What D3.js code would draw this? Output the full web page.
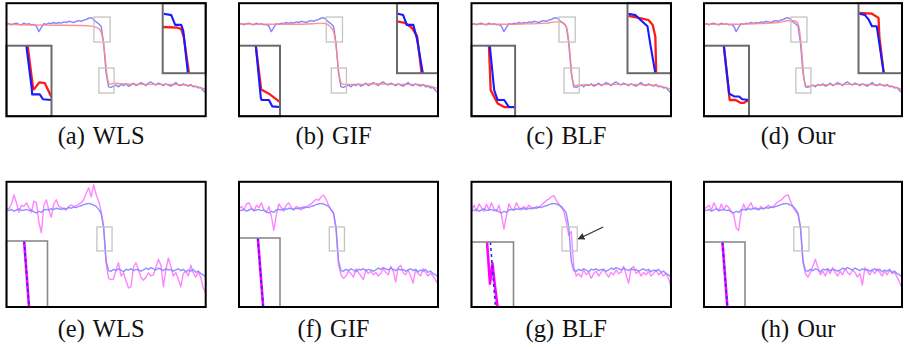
<!DOCTYPE html>
<html>
<head>
<meta charset="utf-8">
<script src="https://cdn.jsdelivr.net/npm/d3@7"></script>
<style>
  html, body { margin: 0; padding: 0; background: #fff; }
  svg { display: block; }
  .caption { font-family: "Liberation Serif", "DejaVu Serif", serif; font-size: 24.5px; fill: #111; }
</style>
</head>
<body>
<svg id="chart" width="910" height="347"></svg>
<script>
const methods = ['WLS', 'GIF', 'BLF', 'Our'];
const topLabels = ['(a)', '(b)', '(c)', '(d)'];
const bottomLabels = ['(e)', '(f)', '(g)', '(h)'];

// row 1: noisy step (input, blue) and smoothed outputs (red), intensity 100 = high, 0 = low
const stepInput = [
  100, 101, 99, 101, 102, 100, 99, 102, 100, 101,
  99, 100, 97, 88, 95, 101, 100, 102, 101, 103,
  101, 103, 102, 104, 103, 105, 104, 103, 105, 106,
  105, 107, 108, 110, 111, 108, 104, 101, 97, 69,
  20, -3, -4, -2, 0, -3, 1, -1, 2, -2,
  0, 3, -1, 1, 4, 2, -1, 3, 5, 2,
  0, 3, 1, -1, 2, 0, -2, 1, 4, 0,
  -1, 2, 0, -2, 1, -3, -2, -5, -4, -9,
  -13
];
const stepWLS = [[0, 100], [10, 99], [20, 98.5], [30, 98], [34, 97], [36, 95], [37.5, 91], [38.5, 80], [39.5, 50], [40.5, 12], [41.5, 1], [43, 3], [46, 2], [55, 1], [65, 1], [72, 0], [77, -3], [80, -7]];
const stepGIF = [[0, 101], [10, 100], [20, 100], [30, 101], [33, 102], [35, 101], [36.5, 97], [38, 88], [39, 65], [40, 25], [41, 4], [42, 1], [46, 1], [55, 2], [65, 1], [72, 1], [77, -2], [80, -6]];
const stepBLF = [[0, 100], [10, 100], [20, 100.5], [30, 102], [34, 104], [36, 104], [37.5, 100], [38.5, 88], [39.5, 52], [40.5, 8], [41.5, -1], [44, 0], [55, 1], [65, 1], [72, 0], [77, -3], [80, -7]];
const stepOur = [[0, 100], [10, 100], [20, 101], [30, 103], [34, 106], [36, 106], [37.5, 104], [38.5, 92], [39.5, 55], [40.5, 8], [41.5, -2], [44, -1], [55, 1], [65, 1], [72, 0], [77, -3], [80, -7]];
const stepOutputs = [stepWLS, stepGIF, stepBLF, stepOur];

// row 2: input (blue) and detail-enhanced outputs (magenta)
const detailInput = [
  100, 99, 101, 98, 100, 102, 99, 100, 101, 99,
  100, 97, 95, 98, 96, 100, 101, 100, 102, 101,
  103, 102, 101, 103, 102, 104, 103, 105, 104, 106,
  107, 109, 110, 111, 110, 108, 106, 101, 95, 72,
  15, -1, -2, 1, -1, 2, 0, -3, 1, 0,
  2, -1, 1, 0, -2, 0, 3, 1, 4, 2,
  0, 3, 1, -1, 2, 0, 1, -2, 0, 2,
  -1, 1, -3, 0, -2, 1, -4, -2, -6, -8,
  -12
];
const detailWLS = [
  103, 102, 110, 125, 112, 96, 108, 106, 112, 104,
  96, 115, 112, 80, 62, 108, 117, 100, 88, 110,
  117, 106, 104, 102, 100, 106, 108, 106, 107, 110,
  112, 117, 128, 137, 122, 142, 126, 115, 98, 72,
  12, -14, -16, -15, 0, 12, -10, -5, -18, -30,
  -28, 5, 12, 0, -12, -17, -12, -5, -10, -8,
  4, 18, 8, -28, 0, 20, 6, -10, -4, -15,
  -28, -6, -2, -10, 8, -5, -12, -4, -12, -30,
  -38
];
const detailGIF = [
  102, 106, 100, 110, 112, 104, 98, 108, 104, 112,
  100, 96, 106, 90, 66, 92, 110, 104, 98, 108,
  112, 104, 100, 106, 104, 100, 106, 104, 108, 110,
  114, 118, 116, 122, 125, 118, 108, 100, 94, 68,
  10, -8, -14, -10, -2, -6, -12, 2, -4, -10,
  -16, 0, -6, -2, -8, -4, -10, -6, 2, -4,
  -8, 6, -2, -20, 4, 8, -4, -8, 0, -10,
  -22, 0, -6, -10, 2, -4, -10, -6, -10, -16,
  -25
];
const detailBLF = [
  100, 108, 98, 110, 104, 98, 110, 100, 112, 102,
  98, 108, 92, 68, 90, 110, 102, 100, 112, 104,
  100, 106, 102, 108, 104, 102, 106, 104, 108, 112,
  116, 118, 122, 124, 116, 110, 104, 98, 80, 58,
  64, 6, -10, -6, -12, 0, -8, -4, -14, -6,
  -2, -10, -4, 2, -6, -12, -4, -8, 0, -6,
  -4, 6, -8, -22, 2, 6, -6, -2, -10, -4,
  -8, -2, -10, -6, 0, -8, -4, -10, -6, -14,
  -28
];
const detailOur = [
  102, 104, 108, 100, 112, 104, 98, 110, 100, 108,
  104, 98, 92, 70, 66, 96, 110, 100, 106, 112,
  102, 104, 100, 106, 102, 104, 108, 104, 106, 110,
  114, 116, 120, 124, 125, 114, 104, 98, 92, 68,
  12, -6, -12, -4, 6, 18, 4, -8, -2, -10,
  0, -6, 4, -4, -10, -2, -8, 2, -4, -8,
  0, -4, -12, -6, -25, 4, -2, -8, 0, -6,
  2, -4, -10, -2, -8, 0, -6, -4, -12, -20,
  -30
];
const detailOutputs = [detailWLS, detailGIF, detailBLF, detailOur];

// zoom windows (sample index, intensity) shown by the grey boxes
const stepZoomUpperX = [35.1, 41.6];
const stepZoomUpperV = [70.8, 112];
const stepZoomLowerX = [37.1, 43.2];
const stepZoomLowerV = [-13.2, 28];
const detailZoomX = [36.3, 42.4];
const detailZoomV = [31.7, 71.7];

// inset traces, in percent of the zoom window (x left->right, y bottom->top)
const upperInsetIn = [
  [[2, 85], [20, 83], [29, 69], [43, 69], [48, 60], [58.5, 0]],
  [[2, 85], [15, 83], [24, 69], [40, 69], [49, 48], [63, 0]],
  [[2, 85], [18, 83], [30, 76], [46, 67], [52, 43], [64, 0]],
  [[2, 85], [15, 83], [23, 77], [31, 67], [42, 67], [58, 0]]
];
const upperInsetOut = [
  [[0, 66], [35, 65], [43, 63], [49, 52], [61, 0]],
  [[0, 74], [19, 72], [36, 65], [49, 53], [60, 0]],
  [[2, 82], [26, 79], [48, 76], [58, 69], [64, 52], [66, 0]],
  [[2, 86], [31, 85], [46, 79], [48, 52], [58, 0]]
];
const lowerInsetIn = [
  [[44, 100], [56, 40], [57, 31], [74, 31], [81, 24], [100, 23]],
  [[41, 100], [53, 27], [55, 23], [73, 23], [81, 14], [100, 13]],
  [[42, 100], [52, 37], [60, 23], [75, 23], [86, 13], [100, 13]],
  [[44, 100], [56, 32], [67, 28], [78, 28], [85, 24], [100, 23]]
];
const lowerInsetOut = [
  [[47, 100], [59, 40], [61, 38], [73, 48], [85, 47], [100, 27]],
  [[41, 100], [54, 38], [73, 32], [100, 20]],
  [[40, 100], [44, 37], [60, 18], [75, 13], [100, 13]],
  [[44, 100], [57, 23], [70, 23], [81, 19], [89, 19], [100, 23]]
];
const detailInsetIn = [
  [[43, 100], [55, 0]],
  [[46, 100], [59, 0]],
  [[45, 100], [57, 0]],
  [[45, 100], [57, 0]]
];
const detailInsetOut = [
  [[43, 100], [55, 0]],
  [[46, 100], [59, 0]],
  [[37, 100], [44, 36], [50, 67], [54, 42], [62, 0]],
  [[45, 100], [57, 0]]
];

// layout
const COLS = [[6.5, 205.7], [239, 438], [471.5, 671], [704, 902]];
const ROW1 = { top: 3.2, bottom: 116.2, domain: [-51.4, 134.8], captionY: 144 };
const ROW2 = { top: 181.8, bottom: 307, domain: [-61.7, 147], captionY: 336.5 };
const UPPER_INSET_W = [43, 41, 43.5, 43.5];
const UPPER_INSET_H = 70;
const LOWER_INSET_W = [45, 41, 43.6, 45];
const LOWER_INSET_H = 70.5;
const DETAIL_INSET_W = [41, 41, 42, 41];
const DETAIL_INSET_H = [66, 69, 65, 65];

const svg = d3.select('#chart');
const defs = svg.append('defs');
defs.append('marker')
  .attr('id', 'arrowhead')
  .attr('viewBox', '0 0 10 10')
  .attr('refX', 9).attr('refY', 5)
  .attr('markerWidth', 7).attr('markerHeight', 7)
  .attr('markerUnits', 'userSpaceOnUse')
  .attr('orient', 'auto')
  .append('path')
  .attr('d', 'M0,0 L10,5 L0,10 z')
  .attr('fill', '#333');

let clipId = 0;
function clipRect(x, y, w, h) {
  const id = `clip${clipId++}`;
  defs.append('clipPath').attr('id', id)
    .append('rect').attr('x', x).attr('y', y).attr('width', w).attr('height', h);
  return `url(#${id})`;
}

function seriesLine(x, y) {
  return d3.line().x((d, i) => x(i)).y((d) => y(d));
}

function pairLine(x, y, curve) {
  return d3.line().x((d) => x(d[0])).y((d) => y(d[1])).curve(curve || d3.curveLinear);
}

function zoomBox(g, x, y, xr, vr) {
  g.append('rect')
    .attr('x', x(xr[0])).attr('y', y(vr[1]))
    .attr('width', x(xr[1]) - x(xr[0])).attr('height', y(vr[0]) - y(vr[1]))
    .attr('fill', 'none').attr('stroke', '#c4c4c4').attr('stroke-width', 1.3);
}

function inset(g, x0, y0, w, h, traces, border) {
  const ig = g.append('g');
  ig.append('rect').attr('x', x0).attr('y', y0).attr('width', w).attr('height', h).attr('fill', '#fff');
  const ix = d3.scaleLinear().domain([0, 100]).range([x0, x0 + w]);
  const iy = d3.scaleLinear().domain([0, 100]).range([y0 + h, y0]);
  const lines = ig.append('g').attr('clip-path', clipRect(x0, y0, w, h));
  traces.forEach((t) => {
    lines.append('path')
      .attr('d', pairLine(ix, iy)(t.data))
      .attr('fill', 'none')
      .attr('stroke', t.color)
      .attr('stroke-width', t.width)
      .attr('stroke-dasharray', t.dash || null)
      .attr('stroke-linejoin', 'round');
  });
  ig.append('rect').attr('x', x0).attr('y', y0).attr('width', w).attr('height', h)
    .attr('fill', 'none').attr('stroke', border.color).attr('stroke-width', border.width);
}

function caption(cx, cy, label, method) {
  const t = svg.append('text').attr('class', 'caption').attr('x', cx).attr('y', cy).attr('text-anchor', 'middle');
  t.append('tspan').text(label);
  t.append('tspan').attr('dx', 8).text(method);
}

function frame(L, R, T, B) {
  svg.append('rect').attr('x', L).attr('y', T).attr('width', R - L).attr('height', B - T)
    .attr('fill', 'none').attr('stroke', '#000').attr('stroke-width', 2);
}

// row 1: step edge
methods.forEach((method, c) => {
  const [L, R] = COLS[c];
  const { top: T, bottom: B } = ROW1;
  const x = d3.scaleLinear().domain([0, stepInput.length - 1]).range([L, R]);
  const y = d3.scaleLinear().domain(ROW1.domain).range([B, T]);
  const g = svg.append('g');
  const main = g.append('g').attr('clip-path', clipRect(L, T, R - L, B - T));

  main.append('path').attr('d', seriesLine(x, y)(stepInput))
    .attr('fill', 'none').attr('stroke', '#8585ff').attr('stroke-width', 1.4).attr('stroke-linejoin', 'round');
  main.append('path').attr('d', pairLine(x, y, d3.curveMonotoneX)(stepOutputs[c]))
    .attr('fill', 'none').attr('stroke', '#ff8585').attr('stroke-width', 1.4).attr('opacity', 0.9);

  zoomBox(g, x, y, stepZoomUpperX, stepZoomUpperV);
  zoomBox(g, x, y, stepZoomLowerX, stepZoomLowerV);

  const border = { color: '#6a6a6a', width: 2 };
  inset(g, R - UPPER_INSET_W[c], T, UPPER_INSET_W[c], UPPER_INSET_H, [
    { data: upperInsetOut[c], color: '#ff1a1a', width: 2.3 },
    { data: upperInsetIn[c], color: '#1a1aff', width: 2.1 }
  ], border);
  inset(g, L, B - LOWER_INSET_H, LOWER_INSET_W[c], LOWER_INSET_H, [
    { data: lowerInsetOut[c], color: '#ff1a1a', width: 2.3 },
    { data: lowerInsetIn[c], color: '#1a1aff', width: 2.1 }
  ], border);

  frame(L, R, T, B);
  caption((L + R) / 2 - 5, ROW1.captionY, topLabels[c], method);
});

// row 2: detail enhancement
methods.forEach((method, c) => {
  const [L, R] = COLS[c];
  const { top: T, bottom: B } = ROW2;
  const x = d3.scaleLinear().domain([0, detailInput.length - 1]).range([L, R]);
  const y = d3.scaleLinear().domain(ROW2.domain).range([B, T]);
  const g = svg.append('g');
  const main = g.append('g').attr('clip-path', clipRect(L, T, R - L, B - T));

  main.append('path').attr('d', seriesLine(x, y)(detailOutputs[c]))
    .attr('fill', 'none').attr('stroke', '#ff85ff').attr('stroke-width', 1.4).attr('stroke-linejoin', 'round');
  main.append('path').attr('d', seriesLine(x, y)(detailInput))
    .attr('fill', 'none').attr('stroke', '#8585ff').attr('stroke-width', 1.4).attr('opacity', 0.9);

  zoomBox(g, x, y, detailZoomX, detailZoomV);

  if (method === 'BLF') {
    const tipX = x(detailZoomX[1]) + 1;
    const tipY = (y(detailZoomV[0]) + y(detailZoomV[1])) / 2;
    g.append('line')
      .attr('x1', tipX + 25).attr('y1', tipY - 12)
      .attr('x2', tipX).attr('y2', tipY)
      .attr('stroke', '#333').attr('stroke-width', 1.3)
      .attr('marker-end', 'url(#arrowhead)');
  }

  inset(g, L, B - DETAIL_INSET_H[c], DETAIL_INSET_W[c], DETAIL_INSET_H[c], [
    { data: detailInsetOut[c], color: '#ff00ff', width: 2.6 },
    { data: detailInsetIn[c], color: '#2a2aff', width: 1.6, dash: '3,3' }
  ], { color: '#8a8a8a', width: 1.6 });

  frame(L, R, T, B);
  caption((L + R) / 2 - 5, ROW2.captionY, bottomLabels[c], method);
});
</script>
</body>
</html>
